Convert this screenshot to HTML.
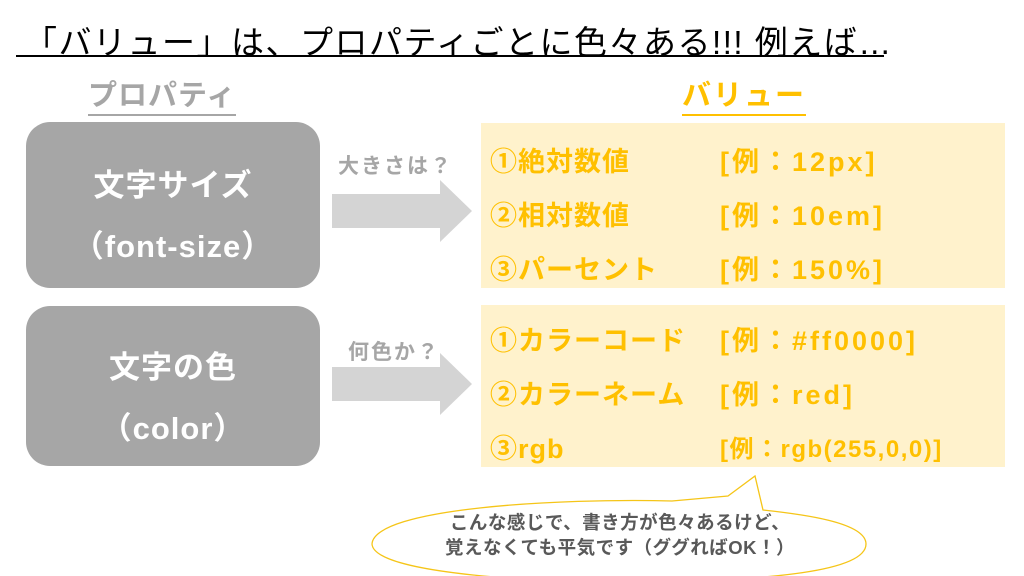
<!DOCTYPE html>
<html><head><meta charset="utf-8"><style>
body{margin:0;width:1024px;height:576px;background:#fff;position:relative;overflow:hidden;font-family:"Liberation Sans","Noto Sans CJK JP",sans-serif;font-weight:bold}
.a{position:absolute;white-space:nowrap}
.box{position:absolute;left:26px;width:294px;background:#a6a6a6;border-radius:24px;color:#fff;text-align:center;font-size:31px;letter-spacing:1px}
.panel{position:absolute;left:481px;width:524px;background:#fff2cc}
.r{position:absolute;color:#ffc000;font-size:27px;letter-spacing:1px}
.v{letter-spacing:3px}
.lab{position:absolute;color:#a6a6a6;font-size:21px;letter-spacing:2px}
</style></head><body>
<div class="a" style="left:24px;top:16px;font-size:33px;font-weight:normal;color:#000;letter-spacing:1.5px">「バリュー」は、プロパティごとに色々ある!!! 例えば…</div>
<div class="a" style="left:16px;top:55px;width:868px;height:2px;background:#000"></div>
<div class="a" style="left:88px;top:78px;font-size:29px;color:#a6a6a6;border-bottom:2px solid #a6a6a6;line-height:36px;letter-spacing:1px">プロパティ</div>
<div class="a" style="left:682px;top:78px;font-size:29px;color:#ffc000;border-bottom:2px solid #ffc000;line-height:36px;letter-spacing:2px">バリュー</div>

<div class="box" style="top:122px;height:166px"><div style="margin-top:38px">文字サイズ</div><div style="margin-top:16px">（font-size）</div></div>
<div class="box" style="top:306px;height:160px"><div style="margin-top:36px">文字の色</div><div style="margin-top:16px">（color）</div></div>

<div class="lab" style="left:338px;top:150px">大きさは？</div>
<div class="lab" style="left:348px;top:336px">何色か？</div>
<svg class="a" style="left:330px;top:180px" width="145" height="62"><polygon points="2,14 110,14 110,0 142,31 110,62 110,48 2,48" fill="#d4d4d4"/></svg>
<svg class="a" style="left:330px;top:353px" width="145" height="62"><polygon points="2,14 110,14 110,0 142,31 110,62 110,48 2,48" fill="#d4d4d4"/></svg>

<div class="panel" style="top:123px;height:165px"></div>
<div class="panel" style="top:305px;height:162px"></div>
<div class="r" style="left:490px;top:140px">①絶対数値</div><div class="r v" style="left:720px;top:140px">[例：12px]</div>
<div class="r" style="left:490px;top:194px">②相対数値</div><div class="r v" style="left:720px;top:194px">[例：10em]</div>
<div class="r" style="left:490px;top:248px">③パーセント</div><div class="r v" style="left:720px;top:248px">[例：150%]</div>
<div class="r" style="left:490px;top:319px">①カラーコード</div><div class="r v" style="left:720px;top:319px">[例：#ff0000]</div>
<div class="r" style="left:490px;top:373px">②カラーネーム</div><div class="r v" style="left:720px;top:373px">[例：red]</div>
<div class="r" style="left:490px;top:427px">③rgb</div><div class="r" style="left:720px;top:429px;font-size:24px;letter-spacing:1.5px">[例：rgb(255,0,0)]</div>

<svg class="a" style="left:360px;top:470px" width="520" height="106">
<path d="M312,31 C200,28 14,38 12,74 C14,106 200,112 250,112 C420,112 506,100 506,74 C506,52 440,44 403,40 L395,6 L368,26 Z" fill="#fff" stroke="#f5c518" stroke-width="1.3"/>
</svg>
<div class="a" style="left:365px;top:510px;width:510px;text-align:center;font-size:18.5px;color:#595959;line-height:25px;letter-spacing:0.5px">こんな感じで、書き方が色々あるけど、<br>覚えなくても平気です（ググればOK！）</div>
</body></html>
